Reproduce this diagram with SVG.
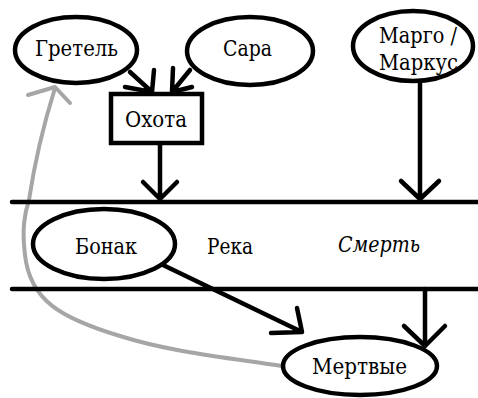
<svg xmlns="http://www.w3.org/2000/svg" width="478" height="398" viewBox="0 0 478 398">
<style>
.n{fill:#fff;stroke:#000;stroke-width:4.5}
.t{font-family:'DejaVu Serif Condensed','DejaVu Serif','Liberation Serif',serif;font-size:23px;fill:#000;text-anchor:middle}
.c{fill:none;stroke:#000;stroke-width:4.5;stroke-linecap:round;stroke-linejoin:round}
.g{fill:none;stroke:#a6a6a6;stroke-width:4;stroke-linecap:round;stroke-linejoin:round}
</style>
<rect width="478" height="398" fill="#fff"/>
<g id="connectors">
<path class="g" d="M282,366 C230,358 170,352 120,336 C60,318 30,300 25,255 C22,230 24,215 29,200 C35,160 45,120 55,88"/>
<path class="g" d="M28,95 L55,87 L70,103"/>
<line class="c" x1="12" y1="202" x2="478" y2="202"/>
<line class="c" x1="12" y1="289" x2="478" y2="289"/>
<path class="c" d="M130,72 L152,92 M125,87 L152,92 L154,70"/>
<path class="c" d="M190,70 L172,92 M173,68 L172,92 L192,87"/>
<path class="c" d="M160,143 L160,199 M143,182 L160,199 L177,182"/>
<path class="c" d="M420,82 L420,199 M401,181 L420,199 L439,181"/>
<path class="c" d="M163,265 L302,332 M297,308 L302,332 L271,333"/>
<path class="c" d="M425,289 L425,346 M404,326 L425,346 L445,326"/>
</g>
<g id="gretel"><ellipse class="n" cx="76" cy="50" rx="61" ry="33"/><text class="t" x="76.5" y="56" textLength="83" lengthAdjust="spacingAndGlyphs">Гретель</text></g>
<g id="sara"><ellipse class="n" cx="250" cy="51" rx="63" ry="34"/><text class="t" x="247.5" y="56" textLength="49" lengthAdjust="spacingAndGlyphs">Сара</text></g>
<g id="margo"><ellipse class="n" cx="413" cy="46" rx="60" ry="35"/><text class="t" x="418" y="43" textLength="78" lengthAdjust="spacingAndGlyphs">Марго /</text><text class="t" x="418.5" y="70" textLength="79" lengthAdjust="spacingAndGlyphs">Маркус</text></g>
<g id="hunt"><rect class="n" x="111" y="94" width="91" height="49"/><text class="t" x="156" y="127" textLength="62" lengthAdjust="spacingAndGlyphs">Охота</text></g>
<g id="bonak"><ellipse class="n" cx="104" cy="244" rx="71" ry="35"/><text class="t" x="106" y="254" textLength="62" lengthAdjust="spacingAndGlyphs">Бонак</text></g>
<g id="river"><text class="t" x="230" y="254" textLength="46" lengthAdjust="spacingAndGlyphs">Река</text></g>
<g id="death"><text class="t" x="379" y="252" font-style="italic" textLength="82" lengthAdjust="spacingAndGlyphs">Смерть</text></g>
<g id="dead"><ellipse class="n" cx="360" cy="366" rx="77" ry="29"/><text class="t" x="359.5" y="374" textLength="95" lengthAdjust="spacingAndGlyphs">Мертвые</text></g>
</svg>
